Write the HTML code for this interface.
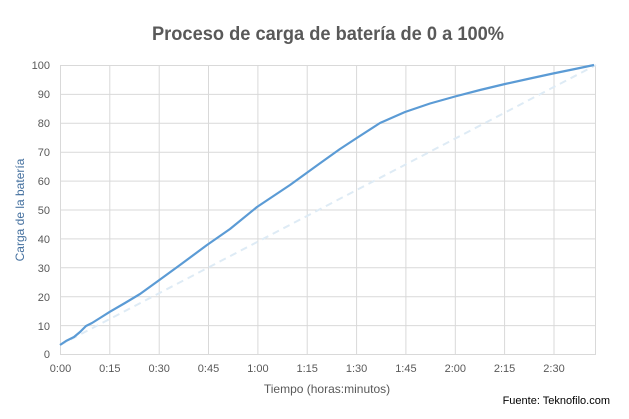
<!DOCTYPE html>
<html><head><meta charset="utf-8"><style>
html,body{margin:0;padding:0;background:#fff;}
svg{display:block;font-family:"Liberation Sans",sans-serif;}
</style></head><body>
<svg width="629" height="419" viewBox="0 0 629 419" xmlns="http://www.w3.org/2000/svg">
<rect width="629" height="419" fill="#fff"/>
<text x="328" y="40" text-anchor="middle" font-size="19" font-weight="bold" fill="#595959" textLength="352" lengthAdjust="spacingAndGlyphs">Proceso de carga de batería de 0 a 100%</text>
<g stroke="#d9d9d9" stroke-width="1">
<line x1="60" y1="65.5" x2="596" y2="65.5"/>
<line x1="60" y1="94.4" x2="596" y2="94.4"/>
<line x1="60" y1="123.3" x2="596" y2="123.3"/>
<line x1="60" y1="152.2" x2="596" y2="152.2"/>
<line x1="60" y1="181.1" x2="596" y2="181.1"/>
<line x1="60" y1="210" x2="596" y2="210"/>
<line x1="60" y1="238.9" x2="596" y2="238.9"/>
<line x1="60" y1="267.8" x2="596" y2="267.8"/>
<line x1="60" y1="296.7" x2="596" y2="296.7"/>
<line x1="60" y1="325.6" x2="596" y2="325.6"/>
<line x1="60" y1="354.5" x2="596" y2="354.5"/>
<line x1="60.5" y1="65" x2="60.5" y2="354"/>
<line x1="109.8" y1="65" x2="109.8" y2="354"/>
<line x1="159.2" y1="65" x2="159.2" y2="354"/>
<line x1="208.5" y1="65" x2="208.5" y2="354"/>
<line x1="257.9" y1="65" x2="257.9" y2="354"/>
<line x1="307.2" y1="65" x2="307.2" y2="354"/>
<line x1="356.6" y1="65" x2="356.6" y2="354"/>
<line x1="405.9" y1="65" x2="405.9" y2="354"/>
<line x1="455.3" y1="65" x2="455.3" y2="354"/>
<line x1="504.6" y1="65" x2="504.6" y2="354"/>
<line x1="554" y1="65" x2="554" y2="354"/>
<line x1="595.5" y1="65" x2="595.5" y2="354"/>
</g>
<g font-size="11" fill="#595959" text-anchor="end">
<text x="50" y="69">100</text><text x="50" y="98">90</text><text x="50" y="127">80</text>
<text x="50" y="156">70</text><text x="50" y="185">60</text><text x="50" y="214">50</text>
<text x="50" y="243">40</text><text x="50" y="272">30</text><text x="50" y="301">20</text>
<text x="50" y="330">10</text><text x="50" y="358">0</text>
</g>
<g font-size="11" fill="#595959" text-anchor="middle">
<text x="60.5" y="372">0:00</text><text x="109.8" y="372">0:15</text><text x="159.2" y="372">0:30</text>
<text x="208.5" y="372">0:45</text><text x="257.9" y="372">1:00</text><text x="307.2" y="372">1:15</text>
<text x="356.6" y="372">1:30</text><text x="405.9" y="372">1:45</text><text x="455.3" y="372">2:00</text>
<text x="504.6" y="372">2:15</text><text x="554" y="372">2:30</text>
</g>
<text x="327" y="393" text-anchor="middle" font-size="12" fill="#595959">Tiempo (horas:minutos)</text>
<text transform="translate(24,210) rotate(-90)" text-anchor="middle" font-size="12" fill="#44709f">Carga de la batería</text>
<text x="610" y="404" text-anchor="end" font-size="11" fill="#000">Fuente: Teknofilo.com</text>
<line x1="60" y1="345" x2="596" y2="65" stroke="#deebf5" stroke-width="2" stroke-dasharray="7,5"/>
<path d="M60,345 L66,341 L74,337 L80,332 L86,326 L92,323 L100,318 L110,311.7 L125,303 L140,294 L158,281 L180,265 L207,245 L230,229 L257,207 L290,185 L319,164 L340,149 L356,138.5 L380,123 L405,112 L430,103.5 L455,96.5 L480,90 L505,84 L530,78.5 L553,73.5 L575,69 L594,65" fill="none" stroke="#5b9bd5" stroke-width="2.2" stroke-linejoin="round"/>
</svg>
</body></html>
